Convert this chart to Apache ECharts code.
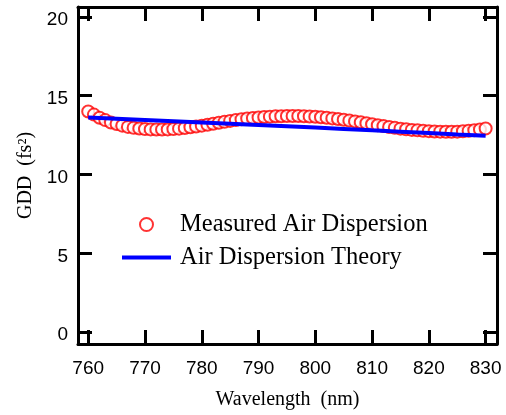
<!DOCTYPE html>
<html lang="en">

<head>
    <meta charset="UTF-8">
    <script src="https://cdn.jsdelivr.net/npm/echarts@6/dist/echarts.min.js"></script>
    <title>GDD</title>
</head>

<style>
    html, body {
        margin: 0;
        padding: 0;
        background: #fff;
    }
</style>

<body>
    <div id="chart" style="width: 506px;height:415px;"></div>

    <script>
        // measured points, one per nm from 760 to 830
        let wavelengths = [];
        for (let w = 760; w <= 830; w++) wavelengths.push(w);
        let measured = [
            14.00, 13.80, 13.60, 13.45, 13.30, 13.20, 13.10, 13.02, 12.96, 12.92,
            12.88, 12.86, 12.85, 12.85, 12.86, 12.88, 12.91, 12.95, 13.00, 13.05,
            13.10, 13.16, 13.22, 13.28, 13.34, 13.40, 13.45, 13.50, 13.55, 13.59,
            13.62, 13.65, 13.67, 13.69, 13.70, 13.71, 13.71, 13.71, 13.70, 13.68,
            13.66, 13.63, 13.60, 13.56, 13.52, 13.47, 13.42, 13.37, 13.31, 13.25,
            13.19, 13.13, 13.07, 13.01, 12.96, 12.91, 12.87, 12.83, 12.80, 12.77,
            12.75, 12.73, 12.72, 12.71, 12.71, 12.72, 12.74, 12.77, 12.81, 12.86,
            12.92
        ];
        let theoryWavelengths = [760, 765, 770, 775, 780, 785, 790, 795, 800, 805, 810, 815, 820, 825, 830];
        let theory = [13.62, 13.54, 13.46, 13.38, 13.30, 13.22, 13.14, 13.06, 12.98, 12.89, 12.80, 12.72, 12.63, 12.54, 12.46];
        let xTicks = [760, 770, 780, 790, 800, 810, 820, 830];
        let yTicks = [0, 5, 10, 15, 20];

        let sans = 'Liberation Sans';
        let serif = 'Liberation Serif';

        function axisBase(showLabel) {
            return {
                axisLine: { show: true, onZero: false, lineStyle: { color: '#000', width: 3 } },
                axisTick: { show: true, inside: true, length: 14, lineStyle: { color: '#000', width: 3 } },
                splitLine: { show: false },
                axisLabel: { show: showLabel, color: '#000', fontFamily: sans, fontSize: 19 }
            };
        }

        function xAxis(pos, showLabel) {
            let a = axisBase(showLabel);
            a.type = 'value';
            a.position = pos;
            a.min = 758.2;
            a.max = 832;
            a.axisTick.customValues = xTicks;
            a.axisLabel.customValues = xTicks;
            a.axisLabel.margin = 15;
            return a;
        }

        function yAxis(pos, showLabel) {
            let a = axisBase(showLabel);
            a.type = 'value';
            a.position = pos;
            a.min = -0.75;
            a.max = 20.625;
            a.axisTick.customValues = yTicks;
            a.axisLabel.customValues = yTicks;
            a.axisLabel.margin = 10;
            a.axisLabel.verticalAlign = 'top';
            a.axisLabel.lineHeight = 6;
            return a;
        }

        let xBottom = xAxis('bottom', true);
        xBottom.name = 'Wavelength  (nm)';
        xBottom.nameLocation = 'middle';
        xBottom.nameGap = 46;
        xBottom.nameTextStyle = { color: '#000', fontFamily: serif, fontSize: 20 };

        let yLeft = yAxis('left', true);
        yLeft.name = 'GDD  (fs²)';
        yLeft.nameLocation = 'middle';
        yLeft.nameGap = 42;
        yLeft.nameTextStyle = { color: '#000', fontFamily: serif, fontSize: 20 };

        let option = {
            backgroundColor: '#fff',
            animation: false,
            grid: { left: 78, right: 9, top: 7, bottom: 66 },
            legend: {
                orient: 'vertical',
                left: 120,
                top: 212,
                padding: 0,
                itemWidth: 49,
                itemHeight: 13,
                itemGap: 8,
                textStyle: { color: '#000', fontFamily: serif, fontSize: 24.5, padding: [0, 0, 0, 4] },
                data: [
                    { name: 'Measured Air Dispersion', icon: 'emptyCircle', itemStyle: { color: '#ff0000', borderColor: '#ff0000', borderWidth: 1 } },
                    { name: 'Air Dispersion Theory', lineStyle: { width: 4, color: '#0000ff' }, itemStyle: { opacity: 0 } }
                ]
            },
            xAxis: [xBottom, xAxis('top', false)],
            yAxis: [yLeft, yAxis('right', false)],
            series: [
                {
                    name: 'Measured Air Dispersion',
                    type: 'scatter',
                    symbol: 'emptyCircle',
                    symbolSize: 12,
                    itemStyle: { color: '#ff0000', borderWidth: 1 },
                    data: wavelengths.map((w, i) => [w, measured[i]]),
                    z: 2
                },
                {
                    name: 'Air Dispersion Theory',
                    type: 'line',
                    showSymbol: false,
                    symbol: 'none',
                    lineStyle: { color: '#0000ff', width: 4 },
                    itemStyle: { color: '#0000ff' },
                    data: theoryWavelengths.map((w, i) => [w, theory[i]]),
                    z: 3
                }
            ]
        };

        var myChart = echarts.init(document.getElementById('chart'));
        myChart.setOption(option);
    </script>
</body>

</html>
